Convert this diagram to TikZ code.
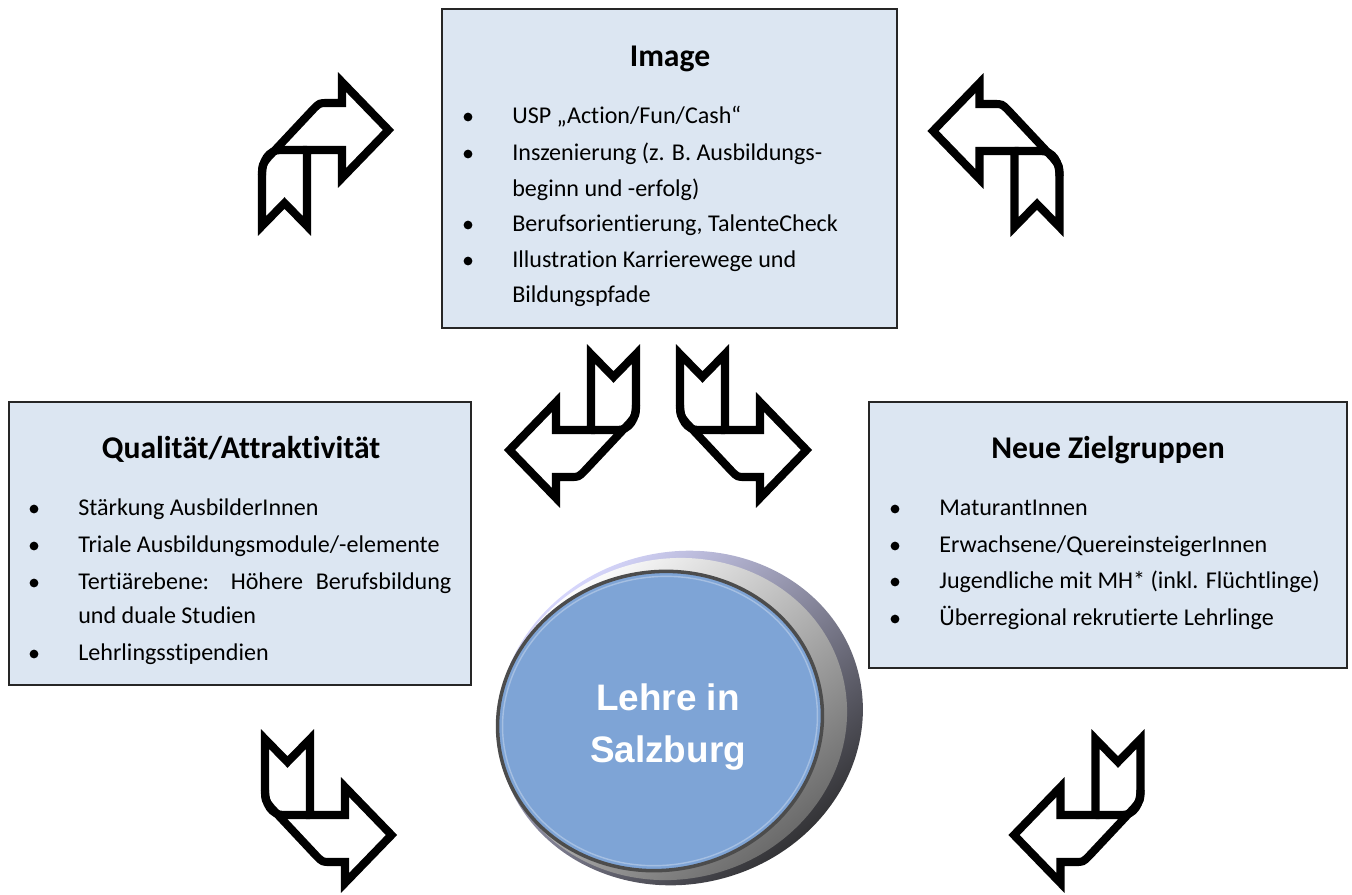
\documentclass[tikz,border=0pt]{standalone}
\usepackage{fontspec}
\setmainfont{Carlito}[Ligatures=NoCommon]
\newfontfamily\arialfont{Liberation Sans}

\definecolor{boxfill}{RGB}{220,230,242}
\definecolor{facefill}{RGB}{126,164,214}

\tikzset{
  fold arrow/.pic={
    \draw[ribbon] (-63.5,71) -- (-63.5,20) .. controls (-63.5,10) .. (-57,2)
      -- (-12,-46) .. controls (-6,-52) .. (2,-52) -- (16.5,-52) -- (16.5,-73)
      -- (63,-25) -- (16.5,23) -- (16.5,-5) -- (-18.5,-5) -- (-18.5,71)
      -- (-41,48) -- cycle;
    % fold of the ribbon
    \draw[ribbon] (-18.5,-5) -- (-45,-5) .. controls (-57,-5) and (-63.5,6) .. (-63.5,20);
  }
}

\begin{document}
\begin{tikzpicture}[
    x=0.02cm, y=-0.02cm,
    panel/.style={draw=black!85, fill=boxfill, line width=1pt, inner sep=0pt},
    heading/.style={anchor=base, inner sep=0pt, font=\fontsize{18}{22}\selectfont\bfseries},
    item/.style={anchor=base west, inner sep=0pt, font=\fontsize{13.7}{16}\selectfont},
    dot/.style={circle, fill=black, inner sep=0pt, minimum size=5pt},
    ribbon/.style={line width=4.6pt, line join=miter}
]
\useasboundingbox (0,0) rectangle (1352,894);

% three panels
\node[panel, minimum width=9.1cm, minimum height=6.38cm] (image) at (669.5,168.5) {};
\node[panel, minimum width=9.24cm, minimum height=5.66cm] (quality) at (240,543.5) {};
\node[panel, minimum width=9.56cm, minimum height=5.32cm] (groups) at (1108,535) {};

\node[heading] (image-t) at (670,66) {Image};
\node[item] (image-1) at (512,123) {USP „Action/Fun/Cash“};
\node[item] (image-2) at (512,160) {Inszenierung (z. B. Ausbildungs-};
\node[item] (image-2b) at (512,196) {beginn und -erfolg)};
\node[item] (image-3) at (512,231) {Berufsorientierung, TalenteCheck};
\node[item] (image-4) at (512,267) {Illustration Karrierewege und};
\node[item] (image-4b) at (512,302) {Bildungspfade};
\foreach \y [count=\k] in {117,154,225,261}
  \node[dot] (image-d\k) at (468,\y) {};

\node[heading] (quality-t) at (241,458) {Qualität/Attraktivität};
\node[item] (quality-1) at (78,515) {Stärkung AusbilderInnen};
\node[item] (quality-2) at (78,552) {Triale Ausbildungsmodule/-elemente};
\node[item] (quality-3) at (78,589) {\makebox[7.46cm][s]{Tertiärebene: Höhere Berufsbildung}};
\node[item] (quality-3b) at (78,623) {und duale Studien};
\node[item] (quality-4) at (78,660) {Lehrlingsstipendien};
\foreach \y [count=\k] in {509,546,583,654}
  \node[dot] (quality-d\k) at (34,\y) {};

\node[heading] (groups-t) at (1108,458) {Neue Zielgruppen};
\node[item] (groups-1) at (939,515) {MaturantInnen};
\node[item] (groups-2) at (939,552) {Erwachsene/QuereinsteigerInnen};
\node[item] (groups-3) at (939,588) {Jugendliche mit MH* (inkl. Flüchtlinge)};
\node[item] (groups-4) at (939,625) {Überregional rekrutierte Lehrlinge};
\foreach \y [count=\k] in {509,546,582,619}
  \node[dot] (groups-d\k) at (895,\y) {};

% ribbon arrows
\pic at (325.5,155) {fold arrow};
\pic[xscale=-1] at (996,156) {fold arrow};
\pic[rotate=180] at (572.5,425) {fold arrow};
\pic[yscale=-1] at (743.5,425) {fold arrow};
\pic[yscale=-1] at (328.5,810) {fold arrow};
\pic[rotate=180] at (1077,810) {fold arrow};

% the button: dark outer edge, silver rim, blue face
\shade[top color=white!85!blue, bottom color=black!85, shading angle=40,
       rotate around={15:(680,718)}] (680,718) ellipse [x radius=184, y radius=166];
\shade[top color=white, middle color=gray!35, bottom color=gray!75!black, shading angle=40,
       rotate around={15:(673,719)}] (673,719) ellipse [x radius=175, y radius=160];
\draw[black!70, line width=2pt, fill=facefill, rotate around={12:(660,721)}]
  (660,721) ellipse [x radius=163, y radius=149];
\draw[facefill!70!white, line width=0.8pt, rotate around={12:(660,721)}]
  (660,721) ellipse [x radius=158, y radius=144];
\node[text=white, align=center, font=\arialfont\fontsize{21}{29.5}\selectfont\bfseries]
  (core) at (668,727) {Lehre in\\Salzburg};

\end{tikzpicture}
\end{document}
